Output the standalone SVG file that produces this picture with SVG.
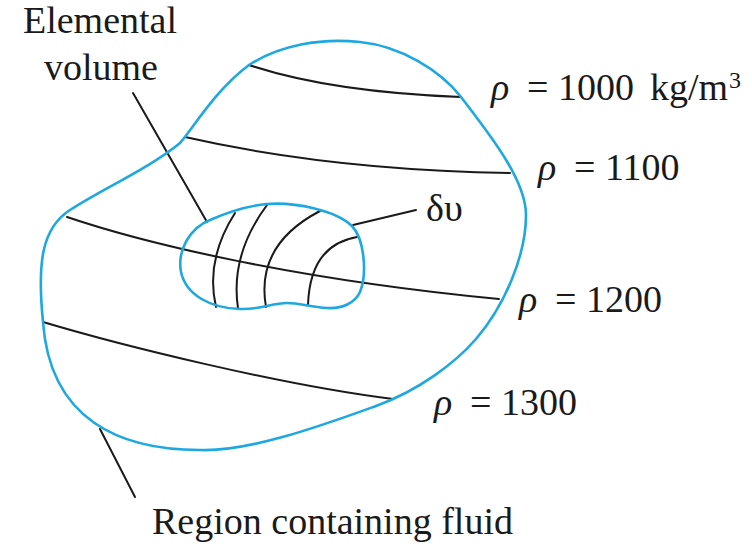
<svg xmlns="http://www.w3.org/2000/svg" width="752" height="544" viewBox="0 0 752 544">
<style>
.blue{fill:none;stroke:#1ea8e0;stroke-width:2.6;stroke-linejoin:round}
.blk{fill:none;stroke:#1a1a1a;stroke-width:2;stroke-linecap:round}
</style>
<rect width="752" height="544" fill="#fff"/>
<g id="connectors">
<path class="blk" d="M 249,65 Q 330,92 461,97"/>
<path class="blk" d="M 185,137 Q 330,170 510,173"/>
<path class="blk" d="M 67,217 C 150,245 300,280 499,299"/>
<path class="blk" d="M 43,322 C 120,345 280,385 393,399"/>
<path class="blk" d="M 235,213 Q 205,260 216,307"/>
<path class="blk" d="M 267,205 Q 230,255 238,308"/>
<path class="blk" d="M 320,211 Q 255,245 266,307"/>
<path class="blk" d="M 357,237 Q 310,245 308,305"/>
<path class="blk" d="M 133,93 L 207,222"/>
<path class="blk" d="M 353,225 L 416,210"/>
<path class="blk" d="M 100,429 L 135,497"/>
</g>
<g id="region">
<path class="blue" d="M 180,143 C 192,130 215,90 249,65 C 280,45 320,38 360,42 C 400,46 440,70 461,97 C 490,135 526,180 526,215 C 526,255 505,305 476,339 C 456,362 420,390 376,406 C 326,424 250,452 200,450 C 120,450 50,420 43,322 C 37,262 42,228 70,210 C 100,190 150,168 180,143 Z"/>
</g>
<g id="element">
<path class="blue" d="M 267,204 C 295,202 335,210 352,226 C 365,240 367,275 360,292 C 355,303 342,309 327,308 C 310,307 300,303 287,303 C 272,303 260,310 240,309 C 210,308 186,295 181,272 C 177,250 190,228 210,220 C 228,212 245,206 267,204 Z"/>
</g>
<g id="labels" font-family="Liberation Serif" font-size="38" fill="#1a1a1a">
<text x="100" y="33" text-anchor="middle">Elemental</text>
<text x="101" y="80" text-anchor="middle">volume</text>
<text x="426" y="221">δυ</text>
<text y="100"><tspan font-style="italic" x="491">ρ</tspan><tspan x="527">= 1000</tspan><tspan x="650">kg/m</tspan><tspan font-size="24" x="729" y="88">3</tspan></text>
<text y="180"><tspan font-style="italic" x="538">ρ</tspan><tspan x="574">= 1100</tspan></text>
<text y="312"><tspan font-style="italic" x="519">ρ</tspan><tspan x="555">= 1200</tspan></text>
<text y="415"><tspan font-style="italic" x="434">ρ</tspan><tspan x="470">= 1300</tspan></text>
<text x="152" y="534">Region containing fluid</text>
</g>
</svg>
